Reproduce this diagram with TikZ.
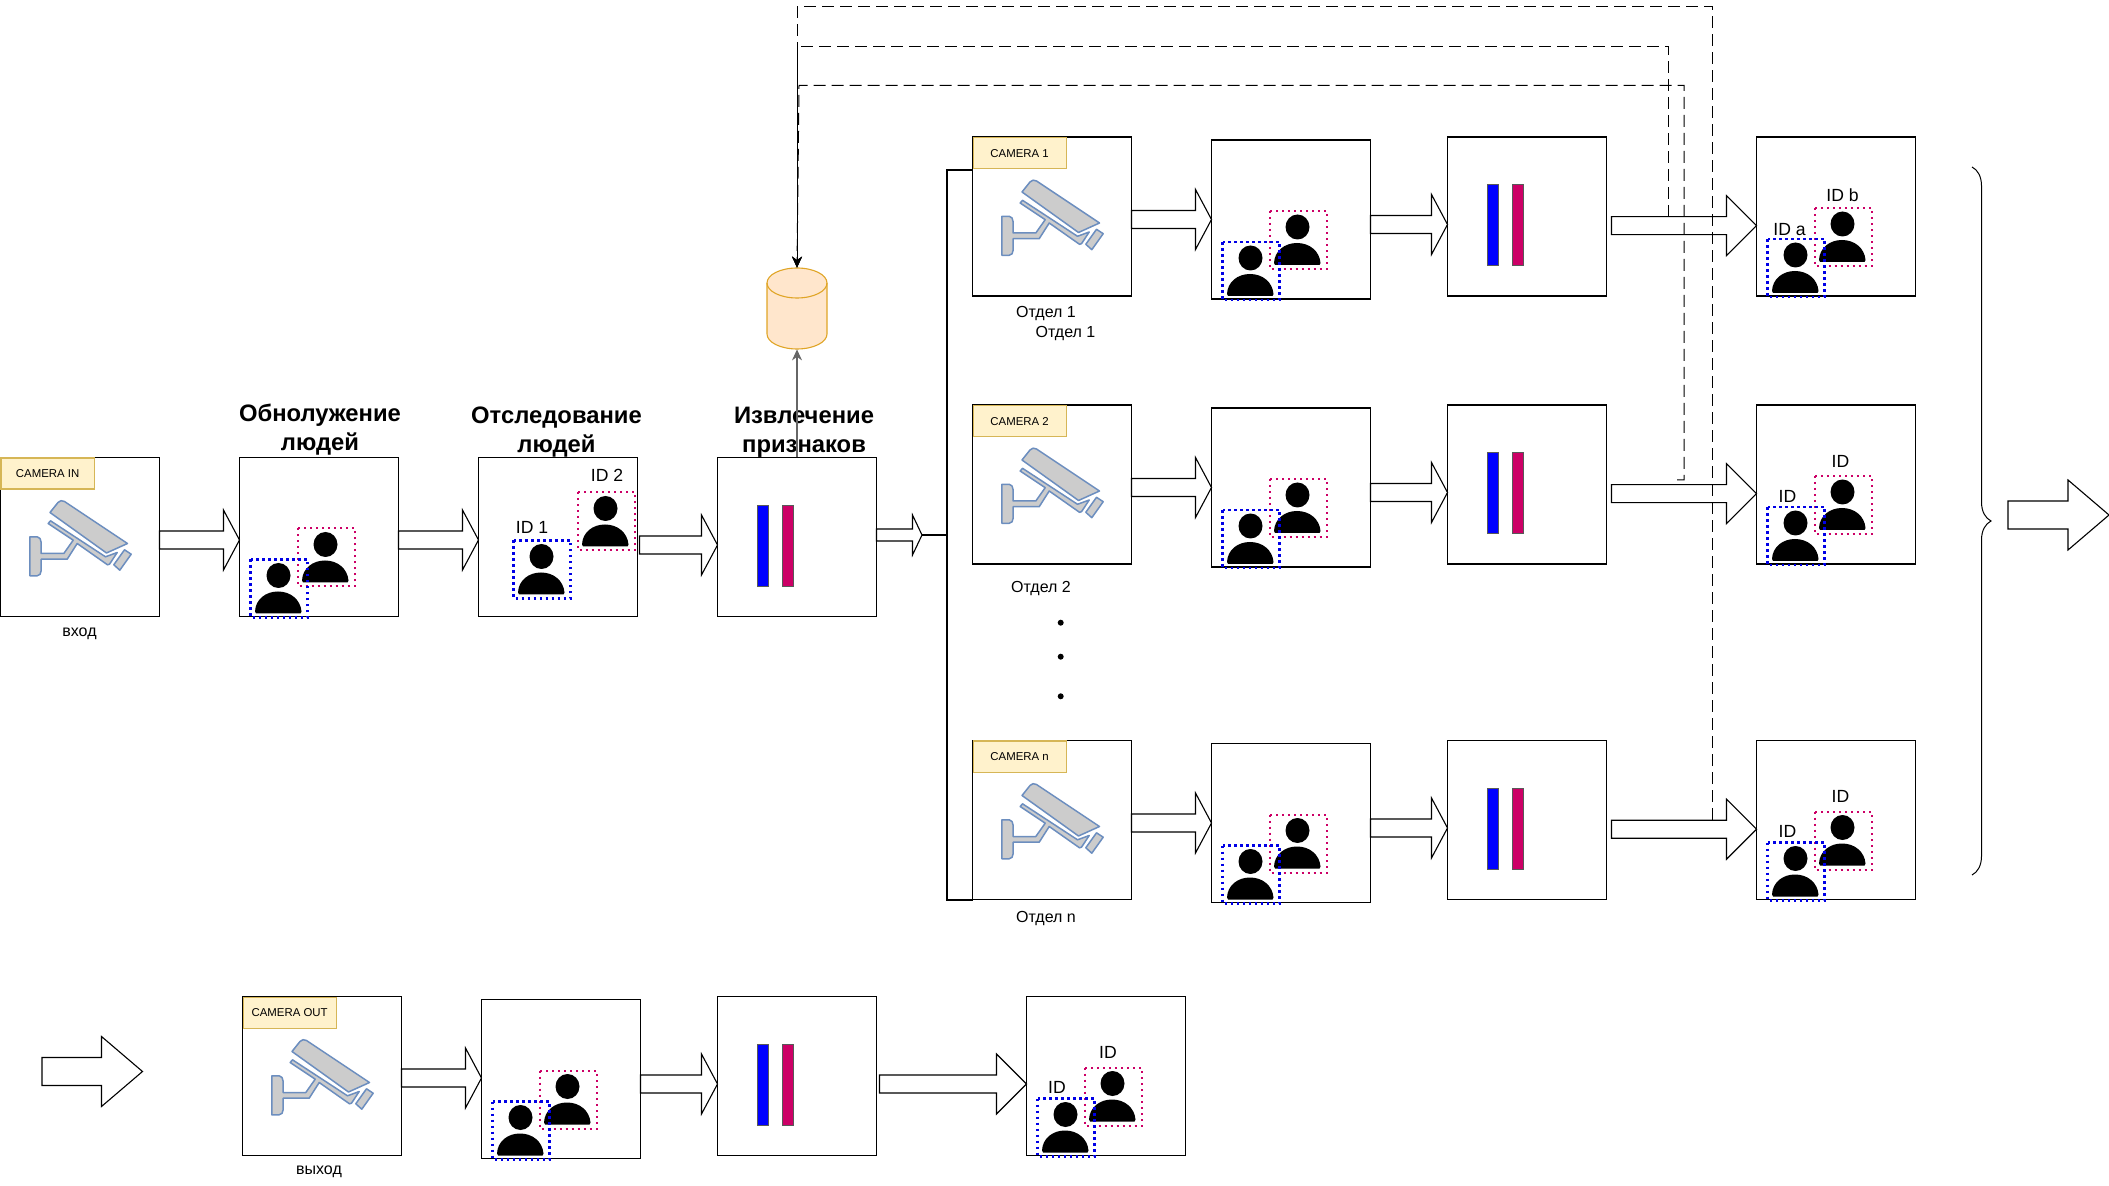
\documentclass[tikz,border=0pt]{standalone}
\usepackage{fontspec}
\setmainfont{Liberation Sans}
\usetikzlibrary{calc,arrows.meta,decorations.pathreplacing}
\definecolor{tagfill}{HTML}{FFF2CC}
\definecolor{tagline}{HTML}{D6B656}
\definecolor{camline}{HTML}{6C8EBF}
\definecolor{camfill}{HTML}{CCCCCC}
\definecolor{dbfill}{HTML}{FFE6CC}
\definecolor{dbline}{HTML}{E0A526}
\definecolor{pinkbox}{HTML}{CC0066}
\definecolor{bluebox}{HTML}{0000E6}
\tikzset{
    panel/.style = {draw, line width=.6pt, minimum size=79.5pt, inner sep=0pt, outer sep=0pt},
    camtag/.style = {draw=tagline, fill=tagfill, line width=.6pt, minimum width=46.5pt, minimum height=15.5pt, inner sep=0pt, anchor=north west, font=\fontsize{5.7}{7}\selectfont},
    smalltext/.style = {inner sep=0pt, font=\fontsize{8}{10}\selectfont},
    idtext/.style = {inner sep=0pt, font=\fontsize{8.8}{10}\selectfont},
    headtext/.style = {inner sep=0pt, align=center, font=\fontsize{11.9}{14.5}\selectfont\bfseries},
    blockarrow/.style n args = {3}{draw, fill=white, line width=.55pt, to path={
        let \p1=(\tikztostart), \p2=(\tikztotarget) in
        (\x1,\y1+#2) -- (\x2-#1,\y1+#2) -- (\x2-#1,\y1+#3) -- (\x2,\y1)
        -- (\x2-#1,\y1-#3) -- (\x2-#1,\y1-#2) -- (\x1,\y1-#2) -- cycle}},
    shortarrow/.style = {blockarrow={8pt}{4.5pt}{15pt}},
    longarrow/.style = {blockarrow={15pt}{4.5pt}{15pt}},
    bigarrow/.style = {blockarrow={20.5pt}{7pt}{17.5pt}},
    feedback/.style = {line width=.5pt, dash pattern=on 6pt off 3pt},
    trunk/.style = {line width=1pt},
    bluedots/.style = {draw=bluebox, line width=1.25pt, dash pattern=on 1.3pt off 1.7pt},
    pinkdots/.style = {draw=pinkbox, line width=1pt, dash pattern=on 1pt off 2pt},
    figure/.pic = {
        \fill (28,16) ellipse (12 and 12.5);
        \fill (4.5,52) .. controls (5,40) and (15,32) .. (27.5,32) .. controls (40,32) and (50,40) .. (51,52) -- (50,54) -- (5.5,54) -- cycle;
    },
    bluefigure/.pic = {
        \draw[bluedots] (0,0) rectangle (57,58);
        \pic at (0,0) {figure};
    },
    pinkfigure/.pic = {
        \draw[pinkdots] (0,0) rectangle (57,58);
        \pic at (0,0) {figure};
    },
    crew/.pic = {
        \pic at (58,71) {pinkfigure};
        \pic at (11,102) {bluefigure};
    },
    bars/.pic = {
        \draw[draw=black!65, fill=blue, line width=.5pt] (40,48) rectangle (51,129);
        \draw[draw=black!65, fill=pinkbox, line width=.5pt] (65,48) rectangle (76,129);
    },
    store/.pic = {
        \filldraw[draw=dbline, fill=dbfill, line width=.55pt] (-30,-25.5) -- (-30,25.5) arc (180:0:30 and 15) -- (30,-25.5) arc (0:-180:30 and 15) -- cycle;
        \draw[dbline, line width=.55pt] (-30,-25.5) arc (180:0:30 and 15);
    },
    camera/.pic = {
        \begin{scope}[draw=camline, fill=camfill, line width=.75pt, line join=round]
        \filldraw (49.5,55) -- (57.5,45) .. controls (59,43) and (62,42.5) .. (64,44) -- (127,86) -- (106,95.5) -- cycle;
        \filldraw (47.7,66) -- (50,63.3) -- (105,99.3) -- (116.7,95) -- (109,106.7) -- (107,107.3) -- (76.7,86) -- (66.7,101.7) -- (40.7,101.7) -- (40.7,113) .. controls (40.7,116) and (39,118.3) .. (36.7,118.3) -- (29.3,118.3) -- (29.3,79.3) -- (36.7,79.3) .. controls (39,79.3) and (40.7,82) .. (40.7,85) -- (40.7,96) -- (63.3,96) -- (72.7,82.7) -- cycle;
        \filldraw (124,92.3) -- (130.7,96.7) -- (119.3,112.7) -- (113.3,107.3) -- cycle;
        \end{scope}
    }
}
\begin{document}
\begin{tikzpicture}[x=.5pt, y=-.5pt, node distance=119.5pt, >={Stealth[length=5.5pt,width=5pt]}]
    \useasboundingbox (0,0) rectangle (2109,1186);

    % main row
    \node[panel] (cam) at (80,537) {};
    \node[panel] (det) [right of=cam] {};
    \node[panel] (trk) [right of=det] {};
    \node[panel] (ftr) [right of=trk] {};
    \node[camtag] (camtag0) at (cam.north west) {CAMERA IN};
    \pic at (cam.north west) {camera};
    \pic at (det.north west) {crew};
    \pic at (ftr.north west) {bars};
    \pic at ([shift={(35,83)}]trk.north west) {bluefigure};
    \pic at ([shift={(99,35)}]trk.north west) {pinkfigure};
    \node[smalltext] (inlabel) at (79.5,634) {вход};
    \node[headtext] (dethead) at (320,429.5) {Обнолужение\\людей};
    \node[headtext] (trkhead) at (556.5,432) {Отследование\\людей};
    \node[headtext] (ftrhead) at (804,432.5) {Извлечение\\признаков};

    \node[minimum width=30pt, minimum height=40.5pt, inner sep=0pt] (db) at (797,308.5) {};
    \pic at (db.center) {store};

    % camera rows
    \node[panel] (cam1) at (1052,216.5) {};
    \node[panel] (det1) [right of=cam1, yshift=-1.5pt] {};
    \node[panel] (ftr1) [right of=det1, node distance=118pt, yshift=1.5pt] {};
    \node[panel] (res1) [right of=ftr1, node distance=154.5pt] {};
    \node[panel] (cam2) [below of=cam1, node distance=134pt] {};
    \node[panel] (det2) [below of=det1, node distance=134pt] {};
    \node[panel] (ftr2) [below of=ftr1, node distance=134pt] {};
    \node[panel] (res2) [below of=res1, node distance=134pt] {};
    \node[panel] (camn) [below of=cam2, node distance=167.75pt] {};
    \node[panel] (detn) [below of=det2, node distance=167.75pt] {};
    \node[panel] (ftrn) [below of=ftr2, node distance=167.75pt] {};
    \node[panel] (resn) [below of=res2, node distance=167.75pt] {};

    \node[camtag] (camtag1) at (cam1.north west) {CAMERA 1};
    \node[camtag] (camtag2) at (cam2.north west) {CAMERA 2};
    \node[camtag] (camtagn) at (camn.north west) {CAMERA n};
    \pic at (cam1.north west) {camera};
    \pic at (cam2.north west) {camera};
    \pic at (camn.north west) {camera};
    \pic at (det1.north west) {crew};
    \pic at (det2.north west) {crew};
    \pic at (detn.north west) {crew};
    \pic at (ftr1.north west) {bars};
    \pic at (ftr2.north west) {bars};
    \pic at (ftrn.north west) {bars};
    \pic at (res1.north west) {crew};
    \pic at (res2.north west) {crew};
    \pic at (resn.north west) {crew};

    \node[idtext] (id1) at (532,527) {ID 1};
    \node[idtext] (id2) at (607,475) {ID 2};
    \node[idtext] (ida) at ([shift={(33,93)}]res1.north west) {ID a};
    \node[idtext] (idb) at ([shift={(86,58)}]res1.north west) {ID b};
    \node[idtext] (id2a) at ([shift={(31,91)}]res2.north west) {ID};
    \node[idtext] (id2b) at ([shift={(84,56)}]res2.north west) {ID};
    \node[idtext] (idna) at ([shift={(31,91)}]resn.north west) {ID};
    \node[idtext] (idnb) at ([shift={(84,56)}]resn.north west) {ID};

    \node[smalltext] (dept1) at (1046,313.5) {Отдел 1};
    \node[smalltext] (dept1b) at (1065.5,333.5) {Отдел 1};
    \node[smalltext] (dept2) at (1041,589) {Отдел 2};
    \node[smalltext] (deptn) at (1046,919) {Отдел n};
    \node[circle, fill, inner sep=0pt, minimum size=3pt] (dot1) at (1060.7,622.7) {};
    \node[circle, fill, inner sep=0pt, minimum size=3pt] (dot2) at (1060.7,656.7) {};
    \node[circle, fill, inner sep=0pt, minimum size=3pt] (dot3) at (1060.7,696.3) {};

    % bottom row
    \node[panel] (camout) at (322,1076) {};
    \node[panel] (detout) [right of=camout, yshift=-1.5pt] {};
    \node[panel] (ftrout) [right of=detout, node distance=118pt, yshift=1.5pt] {};
    \node[panel] (resout) [right of=ftrout, node distance=154.5pt] {};
    \node[camtag] (camtag3) at (camout.north west) {CAMERA OUT};
    \pic at (camout.north west) {camera};
    \pic at (detout.north west) {crew};
    \pic at (ftrout.north west) {bars};
    \pic at (resout.north west) {crew};
    \node[smalltext] (outlabel) at (319,1172) {выход};
    \node[idtext] (idouta) at (1057,1087) {ID};
    \node[idtext] (idoutb) at (1108,1052) {ID};

    \coordinate (jtip) at (922,535);
    \coordinate (trunktop) at (947,170);
    \coordinate (trunkmid) at (947,535);
    \coordinate (trunkbot) at (947,900);
    \coordinate (bracetop) at (1972,167);
    \coordinate (bracebot) at (1972,875);
    \coordinate (nextfrom) at (2008,515);
    \coordinate (nextto) at (2109,515);
    \coordinate (backfrom) at (42,1071.5);
    \coordinate (backto) at (142.5,1071.5);
    \coordinate (tap1) at (1668.5,217);
    \coordinate (bend1) at (797,47);
    \coordinate (stub2) at (1677,480);
    \coordinate (corner2) at (1684,480);
    \coordinate (bend2) at (799,85.5);
    \coordinate (tap3) at (1712.5,820);
    \coordinate (bend3) at (797,7);

    \draw[shortarrow] ([yshift=-1.5pt]cam.east) to (det.west);
    \draw[shortarrow] ([yshift=-1.5pt]det.east) to (trk.west);
    \draw[shortarrow] ([xshift=1pt,yshift=-4pt]trk.east) to (ftr.west);
    \draw[blockarrow={4.75pt}{3pt}{10pt}] ([yshift=1pt]ftr.east) to (jtip);
    \draw[trunk] (jtip) -- (trunkmid);
    \draw[trunk] (trunktop -| cam1.west) -- (trunktop) -- (trunkbot) -- (trunkbot -| camn.west);

    \draw[shortarrow] ([yshift=-1.5pt]cam1.east) to (det1.west);
    \draw[shortarrow] ([yshift=-2.5pt]det1.east) to (ftr1.west);
    \draw[longarrow] ([xshift=2.5pt,yshift=-4.6pt]ftr1.east) to (res1.west);
    \draw[shortarrow] ([yshift=-1.5pt]cam2.east) to (det2.west);
    \draw[shortarrow] ([yshift=-2.5pt]det2.east) to (ftr2.west);
    \draw[longarrow] ([xshift=2.5pt,yshift=-4.6pt]ftr2.east) to (res2.west);
    \draw[shortarrow] ([yshift=-1.5pt]camn.east) to (detn.west);
    \draw[shortarrow] ([yshift=-2.5pt]detn.east) to (ftrn.west);
    \draw[longarrow] ([xshift=2.5pt,yshift=-4.6pt]ftrn.east) to (resn.west);

    \draw[shortarrow] ([yshift=-1pt]camout.east) to (detout.west);
    \draw[shortarrow] ([yshift=-2.5pt]detout.east) to (ftrout.west);
    \draw[longarrow] ([xshift=1.5pt,yshift=-4pt]ftrout.east) to (resout.west);
    \draw[bigarrow] (nextfrom) to (nextto);
    \draw[bigarrow] (backfrom) to (backto);

    \draw[line width=.5pt, decorate, decoration={brace, amplitude=9.5pt}] (bracetop) -- (bracebot);

    \draw[->, color=black!60, line width=.55pt] (ftr.north) -- (db.south);
    \draw[->, feedback] (tap1) |- (bend1) -- (db.north);
    \draw[->, feedback] (stub2) -- (corner2) |- (bend2) -- (db.north);
    \draw[->, feedback] (tap3) |- (bend3) -- (db.north);
\end{tikzpicture}
\end{document}
